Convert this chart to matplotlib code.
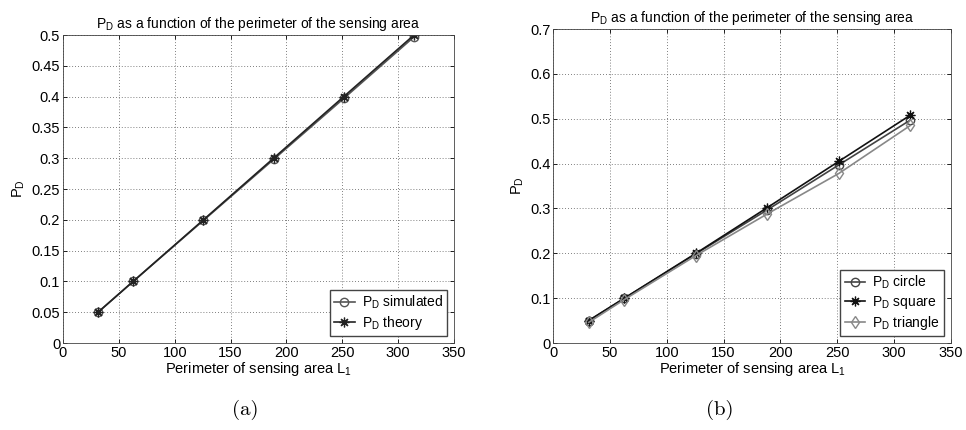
import matplotlib
matplotlib.use("Agg")
import matplotlib.pyplot as plt
from matplotlib.ticker import FuncFormatter

plt.rcParams["font.family"] = ["Liberation Sans", "DejaVu Sans"]
plt.rcParams["font.size"] = 10.5

# perimeter of the sensing area (circle radius 5..50)
perim = [31.4, 62.8, 125.7, 188.5, 251.3, 314.2]

# panel (a)
pd_simulated = [0.050, 0.100, 0.199, 0.298, 0.397, 0.497]
pd_theory = [0.050, 0.100, 0.200, 0.300, 0.400, 0.500]

# panel (b)
pd_circle = [0.050, 0.100, 0.199, 0.297, 0.397, 0.497]
pd_square = [0.050, 0.100, 0.200, 0.302, 0.405, 0.508]
pd_triangle = [0.046, 0.097, 0.195, 0.288, 0.378, 0.485]

yticks_a = [0, 0.05, 0.1, 0.15, 0.2, 0.25, 0.3, 0.35, 0.4, 0.45, 0.5]
yticks_b = [0, 0.1, 0.2, 0.3, 0.4, 0.5, 0.6, 0.7]
xticks = [0, 50, 100, 150, 200, 250, 300, 350]

title = r"P$_\mathregular{D}$ as a function of the perimeter of the sensing area"

# matlab style asterisk: + and x together
ASTER = (8, 2, 0)

fig = plt.figure(figsize=(9.66, 4.30), dpi=100)
ax1 = fig.add_axes([0.0652, 0.2023, 0.4048, 0.7163])
ax2 = fig.add_axes([0.5725, 0.2023, 0.4120, 0.7302])


def style(ax, yticks):
    ax.set_xlim(0, 350)
    ax.set_ylim(yticks[0], yticks[-1])
    ax.set_xticks(xticks)
    ax.set_yticks(yticks)
    ax.yaxis.set_major_formatter(FuncFormatter(lambda v, p: f"{v:g}"))
    ax.tick_params(direction="in", top=True, right=True, length=3, width=0.6,
                   pad=2, labelsize=10.5)
    ax.grid(True, linestyle=(0, (1, 2.5)), color="#555555", linewidth=0.6)
    for s in ax.spines.values():
        s.set_linewidth(0.6)
        s.set_color("#444444")
    ax.set_xlabel(r"Perimeter of sensing area L$_\mathregular{1}$", labelpad=0)
    ax.set_ylabel(r"P$_\mathregular{D}$", labelpad=3)
    ax.set_title(title, fontsize=10, pad=5)


def legend(ax):
    ax.legend(loc="lower right", fancybox=False, framealpha=1,
              edgecolor="#444444", fontsize=10, handlelength=1.5,
              borderaxespad=0.5, labelspacing=0.2, handletextpad=0.5,
              borderpad=0.3)


ax1.plot(perim, pd_simulated, "-o", color="#555555", mfc="none", ms=6, lw=1.2,
         label=r"P$_\mathregular{D}$ simulated")
ax1.plot(perim, pd_theory, "-", marker=ASTER, color="#222222", ms=7, mew=0.9,
         lw=1.2, label=r"P$_\mathregular{D}$ theory")
style(ax1, yticks_a)
legend(ax1)

ax2.plot(perim, pd_circle, "-o", color="#444444", mfc="none", ms=6, lw=1.2,
         label=r"P$_\mathregular{D}$ circle")
ax2.plot(perim, pd_square, "-", marker=ASTER, color="#111111", ms=7, mew=0.9,
         lw=1.2, label=r"P$_\mathregular{D}$ square")
ax2.plot(perim, pd_triangle, "-d", color="#888888", mfc="none", ms=6, lw=1.2,
         label=r"P$_\mathregular{D}$ triangle")
style(ax2, yticks_b)
legend(ax2)

fig.text(245 / 966, 1 - 410 / 430, "(a)", family="cmr10", fontsize=15,
         ha="center", va="center")
fig.text(720 / 966, 1 - 410 / 430, "(b)", family="cmr10", fontsize=15,
         ha="center", va="center")

fig.savefig("out.png", dpi=100)
